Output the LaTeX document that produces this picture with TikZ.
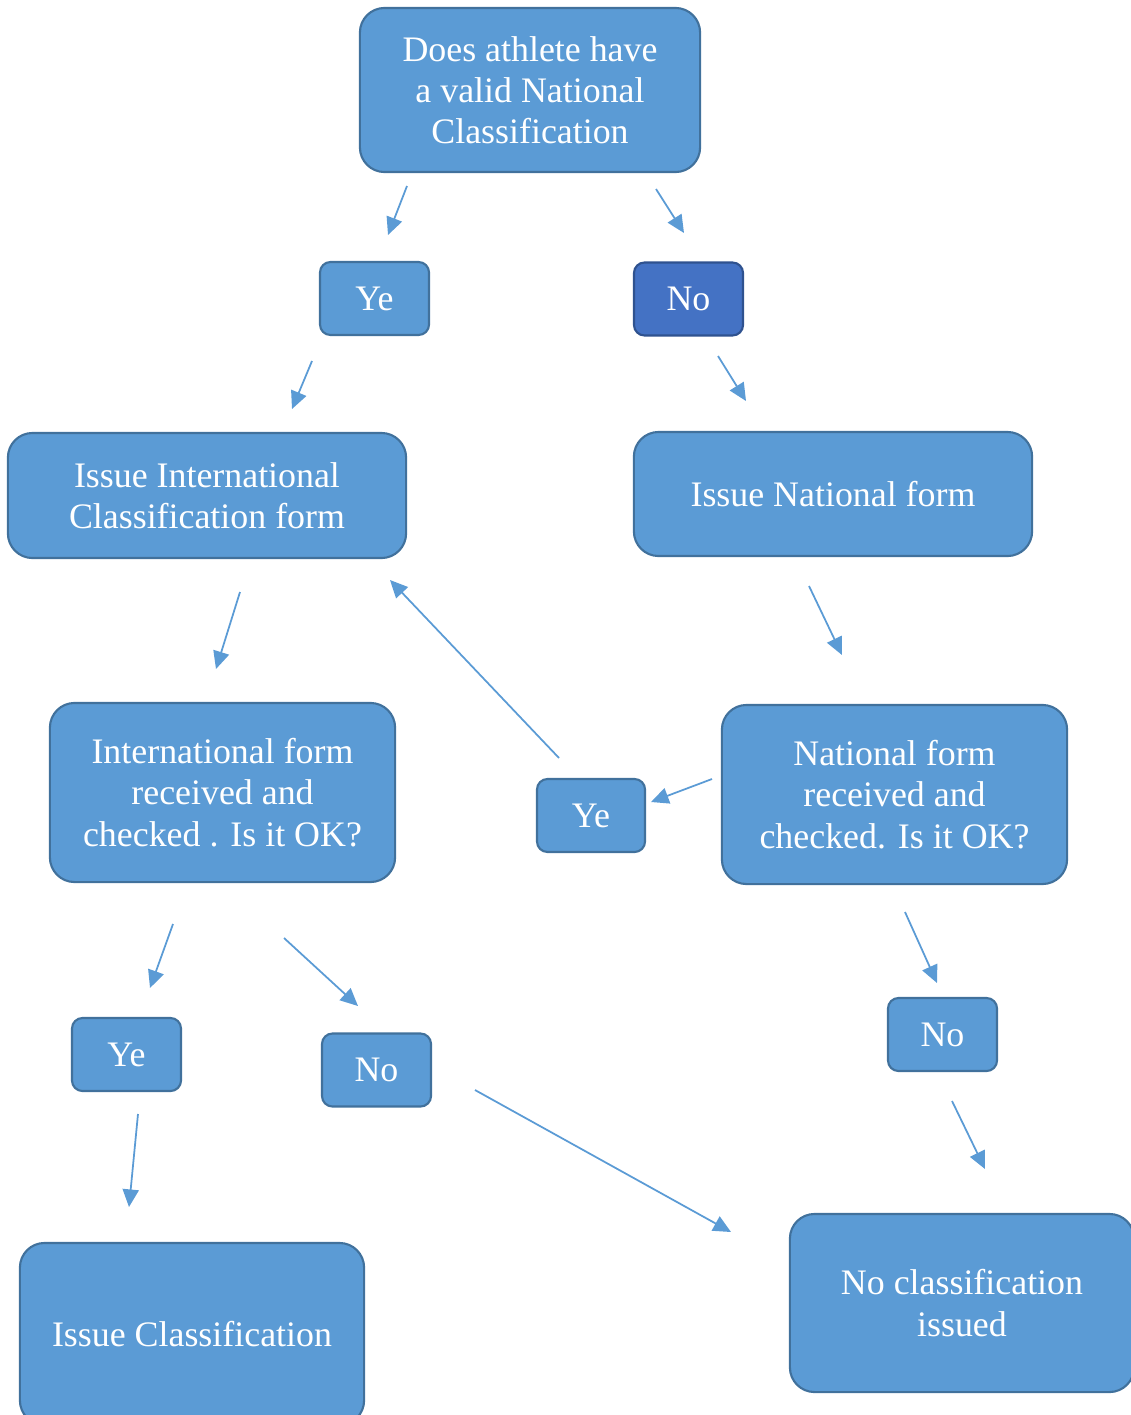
\documentclass[tikz,border=0pt]{standalone}
\usepackage{fontspec}
\setmainfont{Liberation Serif}
\usetikzlibrary{arrows.meta}

\definecolor{boxblue}{HTML}{5B9BD5}
\definecolor{boxedge}{HTML}{41719C}
\definecolor{darkblue}{HTML}{4472C4}
\definecolor{darkedge}{HTML}{2F528F}

\begin{document}
\begin{tikzpicture}[x=0.01cm, y=-0.01cm,
    bigbox/.style={draw=boxedge, fill=boxblue, line width=0.6pt, rounded corners=7pt,
        text=white, align=center, inner sep=0pt,
        font=\fontsize{10.2}{11.7}\selectfont},
    smallbox/.style={bigbox, rounded corners=3pt, minimum width=1.09cm, minimum height=0.73cm},
    flow/.style={draw=boxblue, line width=0.5pt, -{Triangle[length=5pt,width=4.6pt]}}]

    % Fix the page size
    \useasboundingbox (0,0) rectangle (1131,1415);

    % Question at the top
    \node[bigbox, minimum width=3.4cm, minimum height=1.64cm] (valid) at (530,90)
        {Does athlete have\\a valid National\\Classification};

    % First answers
    \node[smallbox] (yes1) at (374.5,298.5) {Ye};
    \node[smallbox, fill=darkblue, draw=darkedge] (no1) at (688.5,299) {No};

    % Forms to issue
    \node[bigbox, minimum width=3.98cm, minimum height=1.25cm] (intlform) at (207,495.5)
        {Issue International\\Classification form};
    \node[bigbox, minimum width=3.98cm, minimum height=1.24cm] (natform) at (833,494)
        {Issue National form};

    % Forms received
    \node[bigbox, minimum width=3.45cm, minimum height=1.79cm] (intlcheck) at (222.5,792.5)
        {International form\\received and\\checked . Is it OK?};
    \node[bigbox, minimum width=3.45cm, minimum height=1.79cm] (natcheck) at (894.5,794.5)
        {National form\\received and\\checked. Is it OK?};
    \node[smallbox, minimum width=1.08cm] (yes2) at (591,815.5) {Ye};

    % Second answers
    \node[smallbox] (yes3) at (126.5,1054.5) {Ye};
    \node[smallbox] (no2) at (376.5,1070) {No};
    \node[smallbox] (no3) at (942.5,1034.5) {No};

    % Outcomes (cut by the page edge)
    \node[bigbox, minimum width=3.44cm, minimum height=1.82cm] (issue) at (192,1334)
        {Issue Classification};
    \node[bigbox, minimum width=3.44cm, minimum height=1.78cm] (noclass) at (962,1303)
        {No classification\\issued};

    % Define the free ends of the arrows
    \coordinate (valid-yes1) at (407,186);   \coordinate (yes1-in) at (388,235);
    \coordinate (valid-no1) at (656,189);    \coordinate (no1-in) at (684,233);
    \coordinate (yes1-out) at (312,361);     \coordinate (intlform-in) at (292,409);
    \coordinate (no1-out) at (718,356);      \coordinate (natform-in) at (746,401);
    \coordinate (intlform-out) at (240,592); \coordinate (intlcheck-in) at (216,669);
    \coordinate (natform-out) at (809,586);  \coordinate (natcheck-in) at (842,655);
    \coordinate (yes2-out) at (559,758);     \coordinate (intlform-back) at (390,580);
    \coordinate (natcheck-out) at (712,779); \coordinate (yes2-in) at (651,802);
    \coordinate (intlcheck-yes) at (173,924); \coordinate (yes3-in) at (150,988);
    \coordinate (intlcheck-no) at (284,938); \coordinate (no2-in) at (358,1006);
    \coordinate (natcheck-no) at (905,912);  \coordinate (no3-in) at (937,983);
    \coordinate (yes3-out) at (138,1114);    \coordinate (issue-in) at (129,1207);
    \coordinate (no2-out) at (475,1090);     \coordinate (noclass-left) at (731,1232);
    \coordinate (no3-out) at (952,1101);     \coordinate (noclass-in) at (985,1169);

    % Draw the arrows
    \draw[flow] (valid-yes1) -- (yes1-in);
    \draw[flow] (valid-no1) -- (no1-in);
    \draw[flow] (yes1-out) -- (intlform-in);
    \draw[flow] (no1-out) -- (natform-in);
    \draw[flow] (intlform-out) -- (intlcheck-in);
    \draw[flow] (natform-out) -- (natcheck-in);
    \draw[flow] (yes2-out) -- (intlform-back);
    \draw[flow] (natcheck-out) -- (yes2-in);
    \draw[flow] (intlcheck-yes) -- (yes3-in);
    \draw[flow] (intlcheck-no) -- (no2-in);
    \draw[flow] (natcheck-no) -- (no3-in);
    \draw[flow] (yes3-out) -- (issue-in);
    \draw[flow] (no2-out) -- (noclass-left);
    \draw[flow] (no3-out) -- (noclass-in);

\end{tikzpicture}
\end{document}
